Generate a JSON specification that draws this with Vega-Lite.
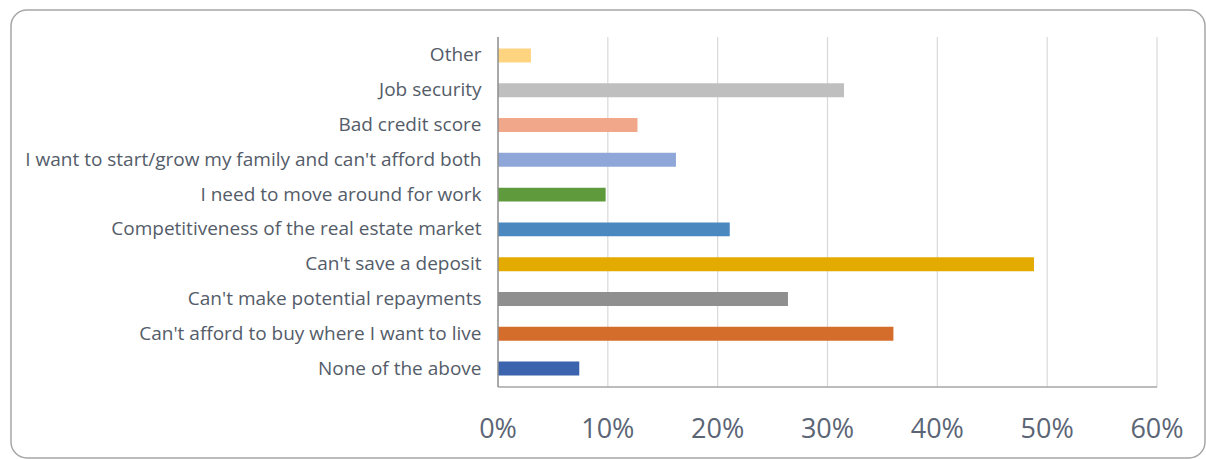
{
  "$schema": "https://vega.github.io/schema/vega-lite/v6.json",
  "width": 1194,
  "height": 448,
  "autosize": {"type": "none"},
  "padding": {"left": 11, "top": 10, "right": 1, "bottom": 1},
  "background": "white",
  "config": {
    "view": {"stroke": "#a6a6a6", "strokeWidth": 1.5, "cornerRadius": 16},
    "font": "Open Sans"
  },
  "resolve": {"scale": {"y": "independent"}},
  "layer": [
    {
      "data": {"values": [{"v": 0.1}, {"v": 0.2}, {"v": 0.3}, {"v": 0.4}, {"v": 0.5}, {"v": 0.6}]},
      "mark": {"type": "rule", "color": "#d9d9d9", "strokeWidth": 1.2},
      "encoding": {
        "x": {
          "field": "v", "type": "quantitative", "axis": null,
          "scale": {"domain": [0, 0.6], "range": [487, 1146], "nice": false, "zero": false}
        },
        "y": {"datum": 0, "type": "quantitative", "axis": null, "scale": {"domain": [0, 1], "range": [377, 27], "nice": false, "zero": false}},
        "y2": {"datum": 1}
      }
    },
    {
      "data": {"values": [
        {"reason": "Other", "pct": 0.030},
        {"reason": "Job security", "pct": 0.315},
        {"reason": "Bad credit score", "pct": 0.127},
        {"reason": "I want to start/grow my family and can't afford both", "pct": 0.162},
        {"reason": "I need to move around for work", "pct": 0.098},
        {"reason": "Competitiveness of the real estate market", "pct": 0.211},
        {"reason": "Can't save a deposit", "pct": 0.488},
        {"reason": "Can't make potential repayments", "pct": 0.264},
        {"reason": "Can't afford to buy where I want to live", "pct": 0.360},
        {"reason": "None of the above", "pct": 0.074}
      ]},
      "mark": {"type": "bar"},
      "encoding": {
        "x": {
          "field": "pct", "type": "quantitative",
          "scale": {"domain": [0, 0.6], "range": [487, 1146], "nice": false, "zero": false},
          "axis": null
        },
        "y": {
          "field": "reason", "type": "nominal", "sort": null,
          "scale": {"range": [27, 377], "paddingInner": 0.6, "paddingOuter": 0.33},
          "axis": {
            "title": null, "domain": false, "ticks": false, "grid": false, "offset": -487,
            "labelPadding": 17, "labelFontSize": 19, "labelColor": "#545c69", "labelLimit": 700,
            "labelFont": "Open Sans"
          }
        },
        "color": {
          "field": "reason", "type": "nominal", "legend": null,
          "scale": {
            "domain": ["Other", "Job security", "Bad credit score", "I want to start/grow my family and can't afford both", "I need to move around for work", "Competitiveness of the real estate market", "Can't save a deposit", "Can't make potential repayments", "Can't afford to buy where I want to live", "None of the above"],
            "range": ["#FFD480", "#BFBFBF", "#F1A78A", "#8FA7D8", "#5F9A3D", "#4B88C0", "#E3AB00", "#8F8F8F", "#D46C2B", "#3B63AE"]
          }
        }
      }
    },
    {
      "data": {"values": [{}]},
      "mark": {"type": "rule", "color": "#a6a6a6", "strokeWidth": 1.5},
      "encoding": {
        "x": {"datum": 0, "type": "quantitative", "axis": null, "scale": {"domain": [0, 0.6], "range": [487, 1146], "nice": false, "zero": false}},
        "x2": {"datum": 0.6},
        "y": {"datum": 0, "type": "quantitative", "axis": null, "scale": {"domain": [0, 1], "range": [377, 27], "nice": false, "zero": false}}
      }
    },
    {
      "data": {"values": [{}]},
      "mark": {"type": "rule", "color": "#8c8c8c", "strokeWidth": 1.5},
      "encoding": {
        "x": {"datum": 0, "type": "quantitative", "axis": null, "scale": {"domain": [0, 0.6], "range": [487, 1146], "nice": false, "zero": false}},
        "y": {"datum": 0, "type": "quantitative", "axis": null, "scale": {"domain": [0, 1], "range": [377, 27], "nice": false, "zero": false}},
        "y2": {"datum": 1}
      }
    },
    {
      "data": {"values": [{"tick": 0}, {"tick": 0.1}, {"tick": 0.2}, {"tick": 0.3}, {"tick": 0.4}, {"tick": 0.5}, {"tick": 0.6}]},
      "mark": {"type": "text", "fontSize": 27, "color": "#5b6575", "font": "Open Sans", "align": "center", "baseline": "middle"},
      "encoding": {
        "x": {"field": "tick", "type": "quantitative", "axis": null, "scale": {"domain": [0, 0.6], "range": [487, 1146], "nice": false, "zero": false}},
        "y": {"datum": -0.1229, "type": "quantitative", "axis": null, "scale": {"domain": [0, 1], "range": [377, 27], "nice": false, "zero": false}},
        "text": {"field": "tick", "type": "quantitative", "format": ".0%"}
      }
    }
  ]
}
